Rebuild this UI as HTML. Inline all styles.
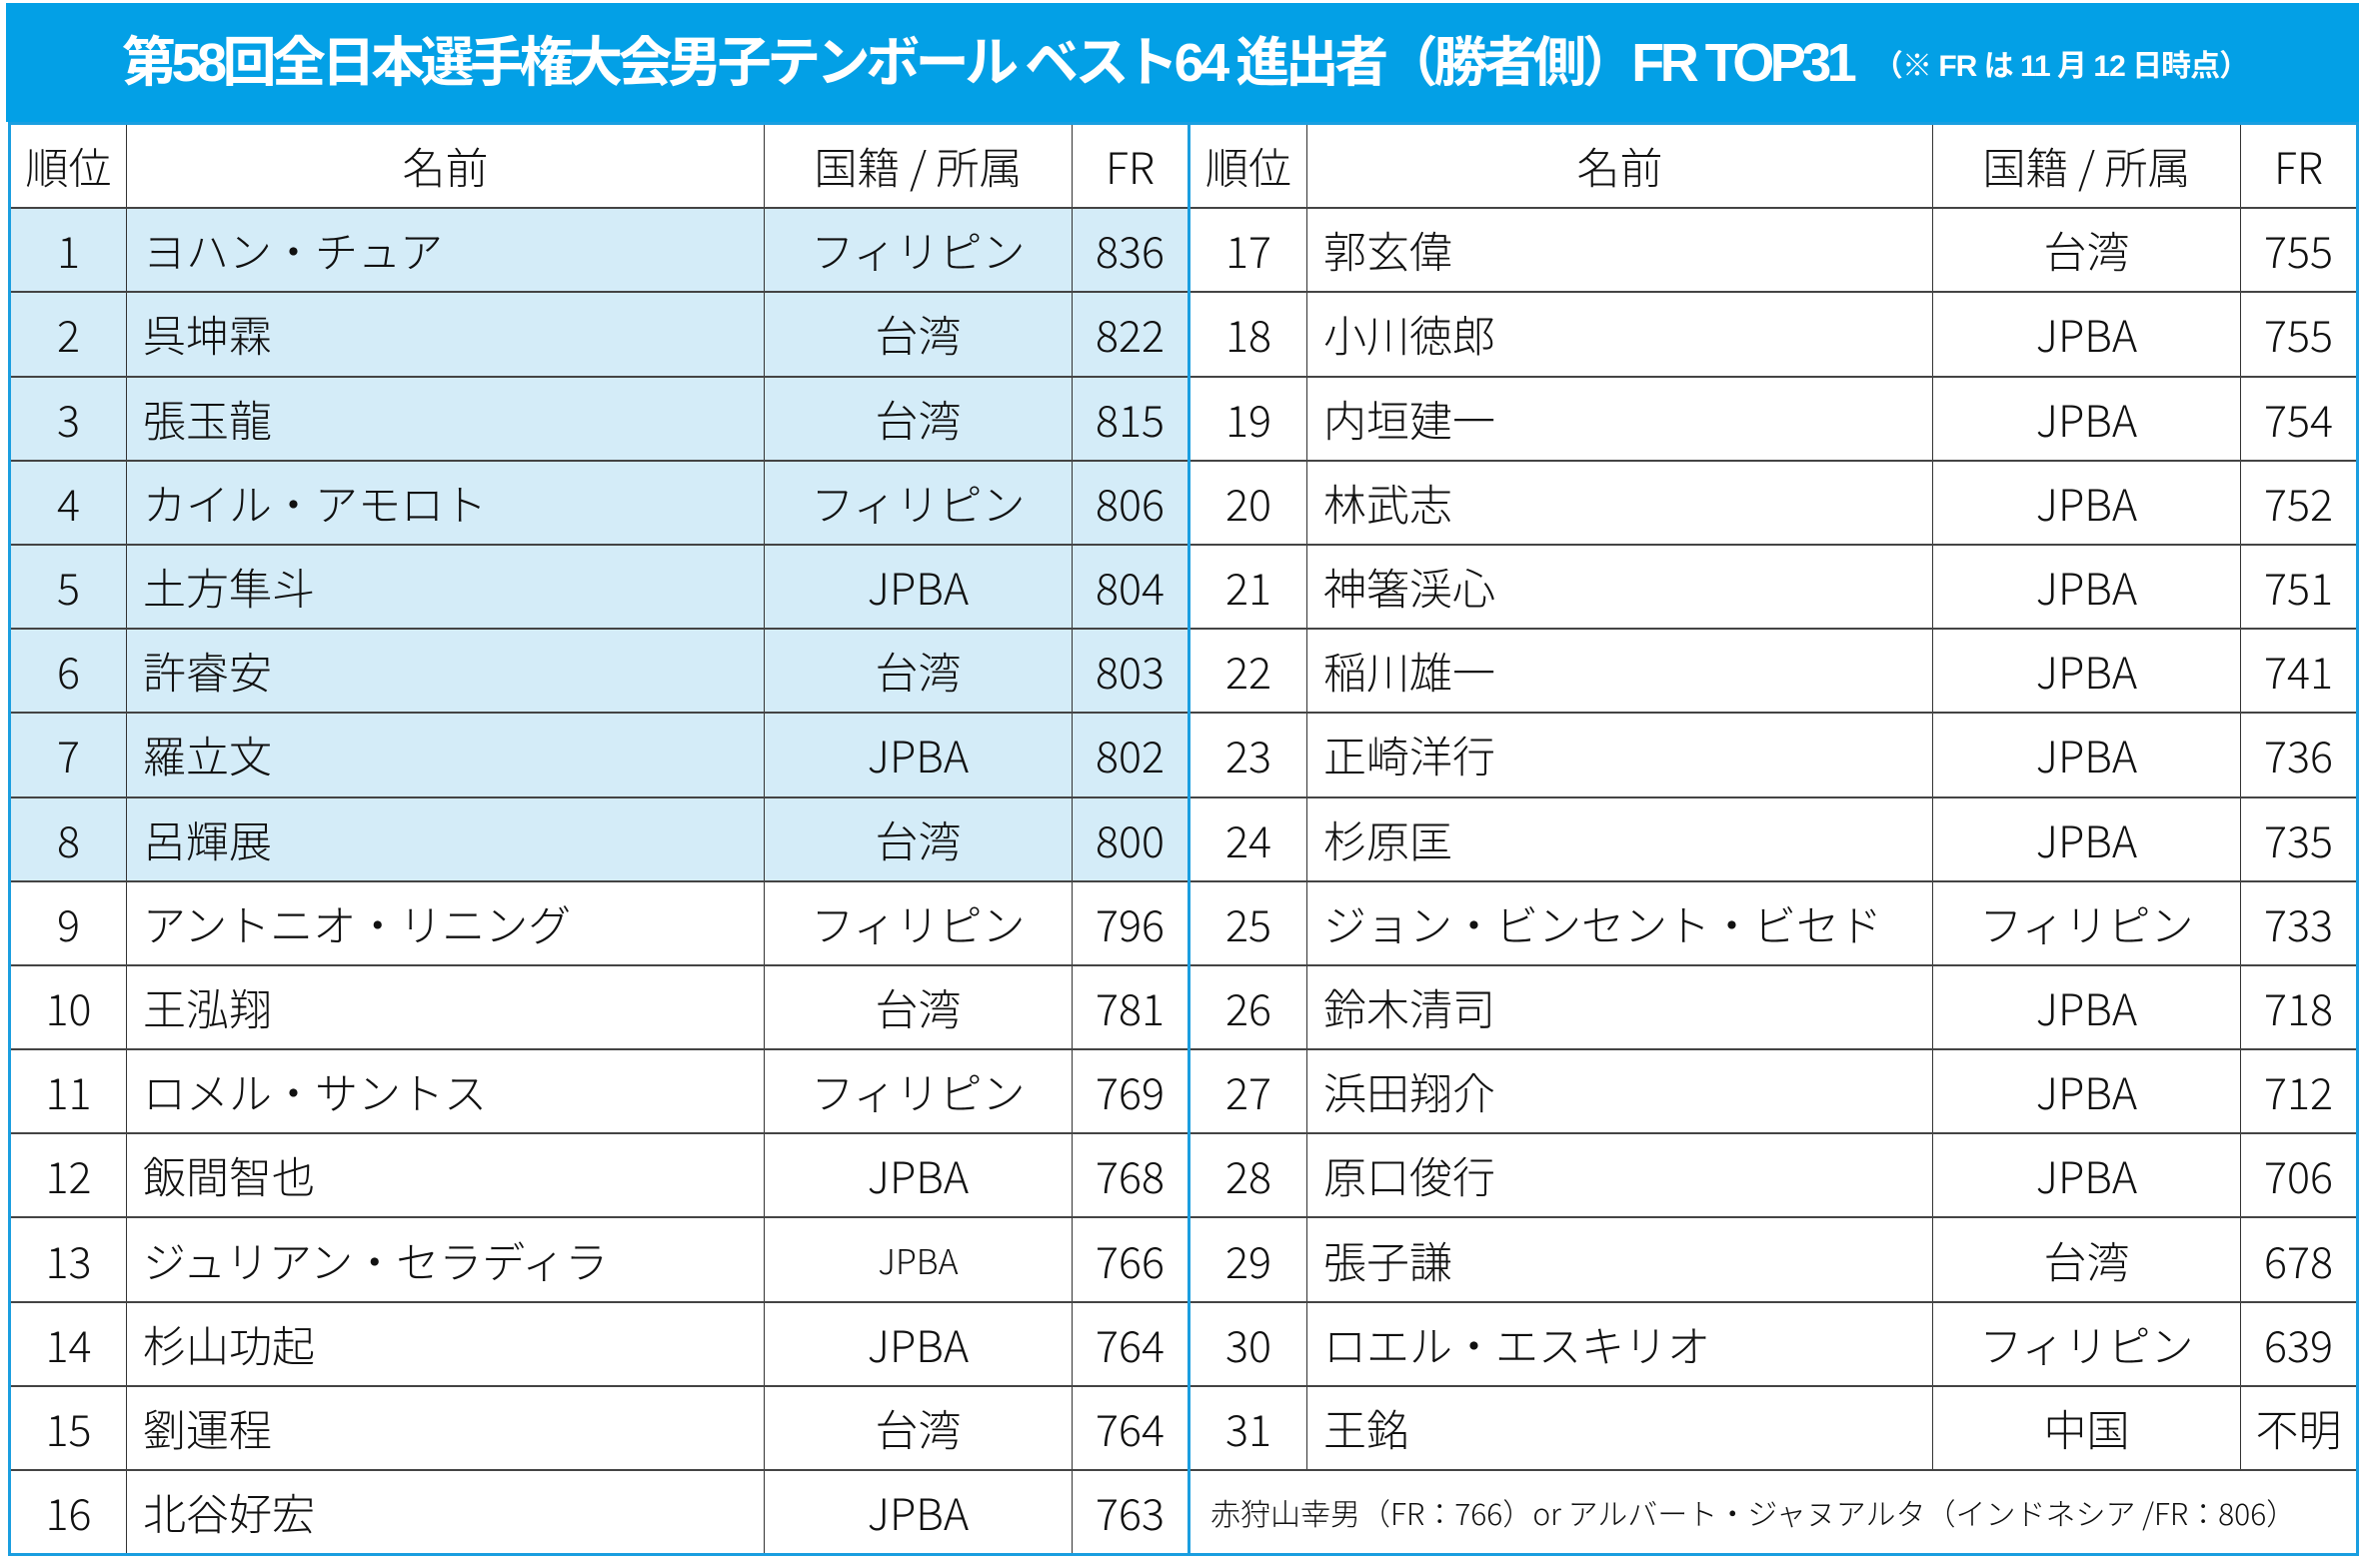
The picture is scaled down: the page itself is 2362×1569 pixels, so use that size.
<!DOCTYPE html>
<html><head><meta charset="utf-8"><style>
html,body{margin:0;padding:0;background:#fff;width:2362px;height:1569px;overflow:hidden}
.title{position:absolute;left:6px;top:3px;width:2354px;height:119px;background:#03a0e6;color:#fff;font-family:"Liberation Sans","Noto Sans CJK JP",sans-serif;font-weight:bold;}
.title .t{position:absolute;left:116px;top:20px;font-size:54px;letter-spacing:-4.5px;white-space:nowrap;line-height:80px}
.title .s{position:absolute;left:1868px;top:24px;font-size:30px;letter-spacing:-1px;white-space:nowrap;line-height:80px}
table{position:absolute;left:8px;top:122px;border-collapse:collapse;table-layout:fixed;font-family:"Noto Sans CJK JP","Liberation Sans",sans-serif;font-size:43px;color:#111}
td{height:82.2px;border:1px solid #333;border-top:2px solid #444;border-bottom:2px solid #444;padding:0;text-align:center;white-space:nowrap;overflow:hidden;font-weight:300}
td.n{text-align:left;padding-left:16px}
.b td.l{background:#d4ecf8}
td.div{border-left:3px solid #1a9ee0}
table{border:3px solid #1a9ee0}
td.small{font-size:30px;text-align:left;padding-left:20px}
</style></head><body>
<div class="title"><div class="t">第58回全日本選手権大会男子テンボール ベスト64 進出者（勝者側）FR TOP31</div><div class="s">（※ FR は 11 月 12 日時点）</div></div>
<table>
<colgroup><col style="width:117px"><col style="width:638px"><col style="width:308px"><col style="width:117px"><col style="width:118px"><col style="width:626px"><col style="width:308px"><col style="width:117px"></colgroup>
<tr class="h"><td>順位</td><td>名前</td><td>国籍 / 所属</td><td>FR</td><td class="div">順位</td><td>名前</td><td>国籍 / 所属</td><td>FR</td></tr>
<tr class="b"><td class="l">1</td><td class="l n">ヨハン・チュア</td><td class="l">フィリピン</td><td class="l">836</td><td class="div">17</td><td class="n">郭玄偉</td><td>台湾</td><td>755</td></tr>
<tr class="b"><td class="l">2</td><td class="l n">呉坤霖</td><td class="l">台湾</td><td class="l">822</td><td class="div">18</td><td class="n">小川徳郎</td><td>JPBA</td><td>755</td></tr>
<tr class="b"><td class="l">3</td><td class="l n">張玉龍</td><td class="l">台湾</td><td class="l">815</td><td class="div">19</td><td class="n">内垣建一</td><td>JPBA</td><td>754</td></tr>
<tr class="b"><td class="l">4</td><td class="l n">カイル・アモロト</td><td class="l">フィリピン</td><td class="l">806</td><td class="div">20</td><td class="n">林武志</td><td>JPBA</td><td>752</td></tr>
<tr class="b"><td class="l">5</td><td class="l n">土方隼斗</td><td class="l">JPBA</td><td class="l">804</td><td class="div">21</td><td class="n">神箸渓心</td><td>JPBA</td><td>751</td></tr>
<tr class="b"><td class="l">6</td><td class="l n">許睿安</td><td class="l">台湾</td><td class="l">803</td><td class="div">22</td><td class="n">稲川雄一</td><td>JPBA</td><td>741</td></tr>
<tr class="b"><td class="l">7</td><td class="l n">羅立文</td><td class="l">JPBA</td><td class="l">802</td><td class="div">23</td><td class="n">正崎洋行</td><td>JPBA</td><td>736</td></tr>
<tr class="b"><td class="l">8</td><td class="l n">呂輝展</td><td class="l">台湾</td><td class="l">800</td><td class="div">24</td><td class="n">杉原匡</td><td>JPBA</td><td>735</td></tr>
<tr><td>9</td><td class="n">アントニオ・リニング</td><td>フィリピン</td><td>796</td><td class="div">25</td><td class="n">ジョン・ビンセント・ビセド</td><td>フィリピン</td><td>733</td></tr>
<tr><td>10</td><td class="n">王泓翔</td><td>台湾</td><td>781</td><td class="div">26</td><td class="n">鈴木清司</td><td>JPBA</td><td>718</td></tr>
<tr><td>11</td><td class="n">ロメル・サントス</td><td>フィリピン</td><td>769</td><td class="div">27</td><td class="n">浜田翔介</td><td>JPBA</td><td>712</td></tr>
<tr><td>12</td><td class="n">飯間智也</td><td>JPBA</td><td>768</td><td class="div">28</td><td class="n">原口俊行</td><td>JPBA</td><td>706</td></tr>
<tr><td>13</td><td class="n">ジュリアン・セラディラ</td><td style="font-size:34px">JPBA</td><td>766</td><td class="div">29</td><td class="n">張子謙</td><td>台湾</td><td>678</td></tr>
<tr><td>14</td><td class="n">杉山功起</td><td>JPBA</td><td>764</td><td class="div">30</td><td class="n">ロエル・エスキリオ</td><td>フィリピン</td><td>639</td></tr>
<tr><td>15</td><td class="n">劉運程</td><td>台湾</td><td>764</td><td class="div">31</td><td class="n">王銘</td><td>中国</td><td>不明</td></tr>
<tr><td>16</td><td class="n">北谷好宏</td><td>JPBA</td><td>763</td><td class="div small" colspan="4">赤狩山幸男（FR：766）or アルバート・ジャヌアルタ（インドネシア /FR：806）</td></tr>
</table>
</body></html>
